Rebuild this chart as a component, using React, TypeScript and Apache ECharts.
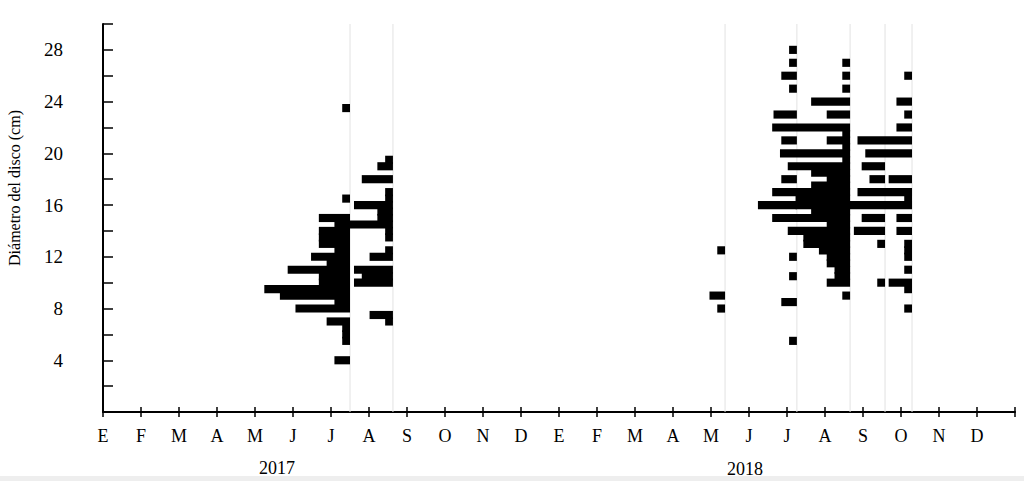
import React, { useEffect, useRef } from "react";
import * as echarts from "echarts";

// Month tick labels (Spanish initials) and years
const monthLabels = ["E", "F", "M", "A", "M", "J", "J", "A", "S", "O", "N", "D"];
const yearLabels = ["2017", "2018"];

// Sampling dates, in months since 1 Jan 2017
const samplingDates = [6.5, 7.63, 16.37, 18.26, 19.66, 20.58, 21.29];

// Disc diameter classes (cm) and number of individuals per sampling date
const diamA = [23.5, 16.5, 15, 14.5, 14, 13.5, 13, 12.5, 12, 11.5, 11, 10.5, 10, 9.5, 9, 8.5, 8, 7, 6.5, 6, 5.5, 4];
const countA = [1, 1, 4, 2, 4, 4, 4, 2, 5, 3, 8, 4, 4, 11, 9, 2, 7, 3, 1, 1, 1, 2];

const diamB = [19.5, 19, 18, 17, 16.5, 16, 15.5, 15, 14.5, 14, 13.5, 12.5, 12, 11, 10.5, 10, 7.5, 7];
const countB = [1, 2, 4, 1, 1, 5, 2, 2, 7, 1, 1, 1, 3, 5, 4, 5, 3, 1];

const diamC = [12.5, 9, 8];
const countC = [1, 2, 1];

const diamD = [28, 27, 26, 25, 23, 21, 18, 16, 12, 10.5, 8.5, 5.5];
const countD = [1, 1, 2, 1, 3, 2, 2, 5, 1, 1, 2, 1];

const diamE = [27, 26, 25, 24, 23, 22, 21.5, 21, 20.5, 20, 19.5, 19, 18.5, 18, 17.5, 17, 16.5, 16, 15.5, 15, 14.5, 14, 13.5, 13, 12.5, 12, 11.5, 11, 10.5, 10, 9];
const countE = [1, 1, 1, 5, 3, 10, 1, 3, 1, 9, 1, 8, 5, 3, 5, 10, 7, 7, 5, 10, 3, 8, 6, 6, 4, 3, 3, 2, 2, 3, 1];

const diamF = [19, 18, 15, 14, 13, 10];
const countF = [3, 2, 3, 4, 1, 1];

const diamG = [26, 24, 23, 22, 21, 20, 18, 17, 16.5, 16, 15, 14, 13, 12.5, 12, 11, 10, 9.5, 8];
const countG = [1, 2, 1, 2, 7, 6, 3, 7, 1, 8, 2, 2, 1, 1, 1, 1, 3, 1, 1];

const groups = [
  [diamA, countA],
  [diamB, countB],
  [diamC, countC],
  [diamD, countD],
  [diamE, countE],
  [diamF, countF],
  [diamG, countG],
];

// scale of the horizontal frequency bars (months of axis per individual) and bar thickness (cm)
const MONTHS_PER_COUNT = 0.205;
const BAR_H = 0.63;

const FONT = "'Liberation Serif', 'DejaVu Serif', serif";

export default function App() {
  const ref = useRef<HTMLDivElement>(null);

  useEffect(() => {
    if (!ref.current) return;
    const chart = echarts.init(ref.current, undefined, { renderer: "svg" });

    const barData: number[][] = [];
    groups.forEach(([diams, counts], gi) => {
      diams.forEach((d, j) => {
        barData.push([samplingDates[gi], d, counts[j]]);
      });
    });

    const option: any = {
      animation: false,
      backgroundColor: "#ffffff",
      grid: { left: 103, right: 9, top: 24, bottom: 69, containLabel: false },
      xAxis: [
        {
          type: "value",
          min: 0,
          max: 24,
          interval: 1,
          position: "bottom",
          axisLine: { show: true, lineStyle: { color: "#000", width: 2 } },
          axisTick: { show: true, inside: true, length: 5, lineStyle: { color: "#000", width: 1.5 } },
          axisLabel: {
            formatter: (v: number) => (v < 24 ? monthLabels[Math.round(v) % 12] : ""),
            fontFamily: FONT,
            fontSize: 18,
            color: "#000",
            margin: 15,
          },
          splitLine: { show: false },
        },
        {
          type: "value",
          min: 0,
          max: 24,
          interval: 1,
          position: "bottom",
          axisLine: { show: false },
          axisTick: { show: true, inside: false, length: 5, lineStyle: { color: "#000", width: 1.5 } },
          axisLabel: { show: false },
          splitLine: { show: false },
        },
      ],
      yAxis: {
        type: "value",
        min: 0,
        max: 30,
        interval: 2,
        offset: 31,
        axisLine: { show: true, lineStyle: { color: "#000", width: 2 } },
        axisTick: { show: true, inside: true, length: 10, lineStyle: { color: "#000", width: 1.5 } },
        axisLabel: {
          formatter: (v: number) => (v % 4 === 0 && v > 0 && v < 30 ? String(v) : ""),
          fontFamily: FONT,
          fontSize: 19,
          color: "#000",
          margin: 9,
        },
        splitLine: { show: false },
      },
      graphic: [
        {
          type: "text",
          x: 14,
          y: 188,
          rotation: Math.PI / 2,
          style: {
            text: "Diámetro del disco (cm)",
            font: `16px ${FONT}`,
            fill: "#000",
            align: "center",
            verticalAlign: "middle",
          },
        },
        {
          type: "text",
          x: 277,
          y: 468,
          style: { text: yearLabels[0], font: `18px ${FONT}`, fill: "#000", align: "center", verticalAlign: "middle" },
        },
        {
          type: "text",
          x: 745,
          y: 469,
          style: { text: yearLabels[1], font: `18px ${FONT}`, fill: "#000", align: "center", verticalAlign: "middle" },
        },
        {
          type: "rect",
          shape: { x: 0, y: 476, width: 1024, height: 5 },
          style: { fill: "#eeeeee" },
          z: -1,
        },
      ],
      series: [
        {
          type: "custom",
          xAxisIndex: 0,
          yAxisIndex: 0,
          z: 1,
          silent: true,
          data: samplingDates.map((x) => [x, 0]),
          encode: { x: 0, y: 1 },
          renderItem: (_p: any, api: any) => {
            const top = api.coord([api.value(0), 30]);
            const bot = api.coord([api.value(0), 0]);
            return {
              type: "line",
              shape: { x1: top[0], y1: top[1], x2: bot[0], y2: bot[1] },
              style: { stroke: "#e2e2e2", lineWidth: 1 },
            };
          },
        },
        {
          type: "custom",
          xAxisIndex: 0,
          yAxisIndex: 0,
          z: 2,
          silent: true,
          data: barData,
          encode: { x: 0, y: 1 },
          renderItem: (_p: any, api: any) => {
            const date = api.value(0);
            const d = api.value(1);
            const n = api.value(2);
            const p0 = api.coord([date - n * MONTHS_PER_COUNT, d + BAR_H / 2]);
            const p1 = api.coord([date, d - BAR_H / 2]);
            return {
              type: "rect",
              shape: { x: p0[0], y: p0[1], width: p1[0] - p0[0], height: p1[1] - p0[1] },
              style: { fill: "#000" },
            };
          },
        },
      ],
    };

    chart.setOption(option);
    return () => chart.dispose();
  }, []);

  return (
    <div
      ref={ref}
      style={{ position: "absolute", left: 0, top: 0, width: 1024, height: 481, background: "#fff" }}
    />
  );
}
